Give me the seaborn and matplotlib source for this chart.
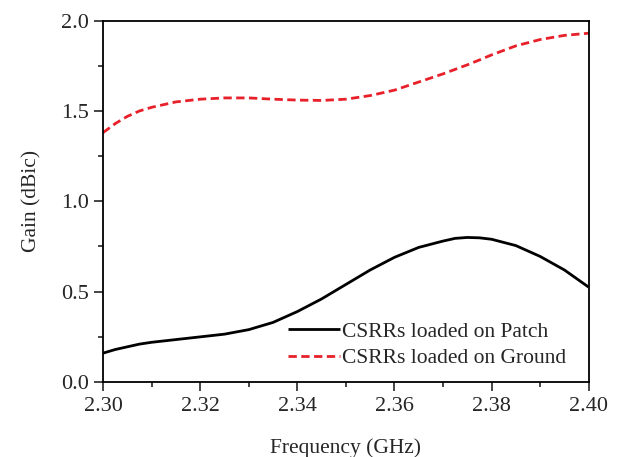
import numpy as np
import pandas as pd
import matplotlib
matplotlib.use("Agg")
import matplotlib.pyplot as plt
import seaborn as sns
from matplotlib.ticker import MultipleLocator

# data
freq = [2.300, 2.3025, 2.305, 2.3075, 2.310, 2.315, 2.320, 2.325, 2.330, 2.335, 2.340,
        2.345, 2.350, 2.355, 2.360, 2.365, 2.370, 2.3725, 2.375, 2.3775, 2.380, 2.385,
        2.390, 2.395, 2.400]
gain_patch = [0.16, 0.18, 0.195, 0.21, 0.22, 0.235, 0.25, 0.265, 0.29, 0.33, 0.39,
              0.46, 0.54, 0.62, 0.69, 0.745, 0.78, 0.795, 0.80, 0.798, 0.79, 0.755,
              0.695, 0.62, 0.525]
gain_ground = [1.38, 1.43, 1.47, 1.50, 1.52, 1.55, 1.565, 1.572, 1.572, 1.565, 1.56,
               1.558, 1.565, 1.585, 1.615, 1.66, 1.705, 1.73, 1.755, 1.782, 1.81, 1.86,
               1.895, 1.918, 1.93]
labels = ["CSRRs loaded on Patch", "CSRRs loaded on Ground"]

sns.set_style("ticks")
plt.rcParams["font.family"] = ["Liberation Serif", "DejaVu Serif"]

df = pd.DataFrame({
    "Frequency": freq * 2,
    "Gain": gain_patch + gain_ground,
    "Case": [labels[0]] * len(freq) + [labels[1]] * len(freq),
})

fig, ax = plt.subplots(figsize=(6.21, 4.57), dpi=100)
fig.subplots_adjust(left=0.166, right=0.948, bottom=0.164, top=0.955)

sns.lineplot(data=df, x="Frequency", y="Gain", hue="Case", style="Case",
             palette=["black", "#e8202a"], dashes=[(1, 0), (3, 1.6)],
             linewidth=2, ax=ax)

ax.set_xlim(2.30, 2.40)
ax.set_ylim(0, 2.0)
ax.xaxis.set_major_locator(MultipleLocator(0.02))
ax.xaxis.set_minor_locator(MultipleLocator(0.01))
ax.yaxis.set_major_locator(MultipleLocator(0.5))
ax.yaxis.set_minor_locator(MultipleLocator(0.25))
ax.xaxis.set_major_formatter(plt.FormatStrFormatter("%.2f"))
ax.yaxis.set_major_formatter(plt.FormatStrFormatter("%.1f"))
ax.tick_params(which="major", direction="out", length=6.5, width=1.2, labelsize=16, pad=4)
ax.tick_params(which="minor", direction="out", length=3.5, width=1.2)
ax.tick_params(top=False, right=False)
for s in ax.spines.values():
    s.set_linewidth(1.3)
    s.set_color("black")

ax.set_xlabel("Frequency (GHz)", fontsize=15.5, labelpad=16)
ax.set_ylabel("Gain (dBic)", fontsize=15.5, labelpad=14)

leg = ax.legend(loc="lower right", bbox_to_anchor=(0.984, -0.003), frameon=False,
                fontsize=15.5, handlelength=2.4, handletextpad=0.1,
                borderaxespad=0.3, labelspacing=0.3)

fig.savefig("out.png", dpi=100)
